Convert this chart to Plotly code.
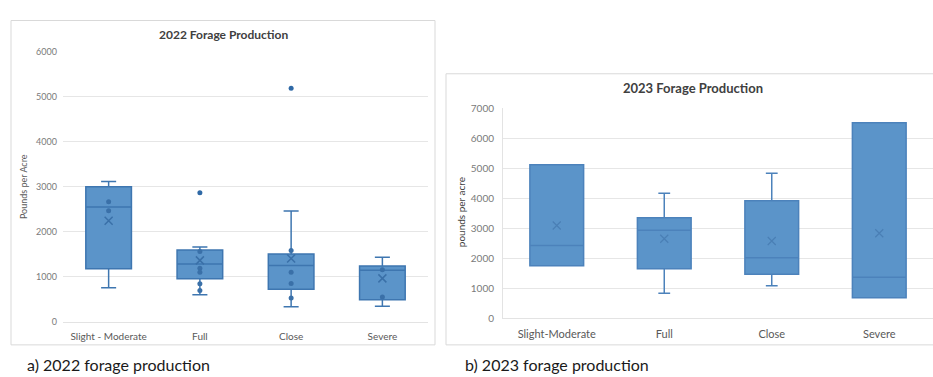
import plotly.graph_objects as go

W, H = 933, 377

# ---------------- 2022 data ----------------
cats22 = ["Slight - Moderate", "Full", "Close", "Severe"]
q1_22 = [1177, 950, 718, 488]
med_22 = [2548, 1280, 1249, 1140]
q3_22 = [2993, 1590, 1500, 1238]
lo_22 = [754, 596, 330, 340]
hi_22 = [3115, 1655, 2455, 1432]
mean_22 = [2240, 1360, 1404, 960]
pts_cat_22 = ["Slight - Moderate", "Slight - Moderate",
              "Full", "Full", "Full", "Full", "Full",
              "Close", "Close", "Close", "Close",
              "Severe", "Severe"]
pts_val_22 = [2663, 2462,
              1558, 1183, 1097, 840, 690,
              1577, 1097, 846, 523,
              1150, 545]
out_cat_22 = ["Full", "Close"]
out_val_22 = [2864, 5183]
yticks22 = [0, 1000, 2000, 3000, 4000, 5000, 6000]

# ---------------- 2023 data ----------------
cats23 = ["Slight-Moderate", "Full", "Close", "Severe"]
q1_23 = [1753, 1656, 1473, 688]
med_23 = [2430, 2935, 2022, 1376]
q3_23 = [5118, 3355, 3925, 6516]
lo_23 = [1753, 839, 1086, 688]
hi_23 = [5118, 4172, 4839, 6516]
mean_23 = [3097, 2656, 2581, 2839]
yticks23 = [0, 1000, 2000, 3000, 4000, 5000, 6000, 7000]

FILL = "#5b94c9"
EDGE = "#3e76b0"
FONT = "Lato"
GRAY = "#595959"


def px(x):
    return x / W


def py(y):
    return 1 - y / H


fig = go.Figure()

fig.add_trace(go.Box(
    x=cats22, q1=q1_22, median=med_22, q3=q3_22,
    lowerfence=lo_22, upperfence=hi_22,
    fillcolor=FILL, line=dict(color=EDGE, width=1.5),
    whiskerwidth=0.33, boxpoints=False, showlegend=False,
    xaxis="x", yaxis="y"))
fig.add_trace(go.Scatter(
    x=pts_cat_22, y=pts_val_22, mode="markers",
    marker=dict(symbol="circle", size=5, color="#3a70a8"),
    showlegend=False, xaxis="x", yaxis="y"))
fig.add_trace(go.Scatter(
    x=out_cat_22, y=out_val_22, mode="markers",
    marker=dict(symbol="circle", size=5, color="#2f69a6"),
    showlegend=False, xaxis="x", yaxis="y"))
fig.add_trace(go.Scatter(
    x=cats22, y=mean_22, mode="markers",
    marker=dict(symbol="x-thin", size=8, line=dict(color="#3a70a8", width=1.5)),
    showlegend=False, xaxis="x", yaxis="y"))

fig.add_trace(go.Box(
    x=cats23, q1=q1_23, median=med_23, q3=q3_23,
    lowerfence=lo_23, upperfence=hi_23,
    fillcolor=FILL, line=dict(color="#4c82bb", width=1.5),
    whiskerwidth=0.22, boxpoints=False, showlegend=False,
    xaxis="x2", yaxis="y2"))
fig.add_trace(go.Scatter(
    x=cats23, y=mean_23, mode="markers",
    marker=dict(symbol="x-thin", size=8, line=dict(color="#4a7fb5", width=1.2)),
    showlegend=False, xaxis="x2", yaxis="y2"))

axis_common = dict(showgrid=False, ticks="", fixedrange=True)

fig.update_layout(
    width=W, height=H,
    margin=dict(l=0, r=0, t=0, b=0),
    paper_bgcolor="white", plot_bgcolor="white",
    boxgap=0.5, boxgroupgap=0,
    font=dict(family=FONT, color=GRAY),
    xaxis=dict(domain=[px(63), px(428)], anchor="y",
               categoryorder="array", categoryarray=cats22,
               tickfont=dict(size=10, color=GRAY, family=FONT),
               showline=True, linecolor="#e3e3e3", linewidth=1,
               ticklabelstandoff=5, **axis_common),
    yaxis=dict(domain=[py(326), py(47)], anchor="x", range=[0, 6000],
               tickvals=yticks22, showgrid=True, gridcolor="#e6e6e6",
               gridwidth=1, zeroline=False, ticks="",
               tickfont=dict(size=9, color="#7a7a7a", family=FONT),
               ticklabelstandoff=5, fixedrange=True),
    xaxis2=dict(domain=[px(503), 1.0], anchor="y2",
                categoryorder="array", categoryarray=cats23,
                tickfont=dict(size=11, color=GRAY, family=FONT),
                showline=True, linecolor="#e3e3e3", linewidth=1,
                ticklabelstandoff=5, **axis_common),
    yaxis2=dict(domain=[py(322.7), py(105.7)], anchor="x2", range=[0, 7000],
                tickvals=yticks23, showgrid=True, gridcolor="#e6e6e6",
                gridwidth=1, zeroline=False, ticks="",
                showline=True, linecolor="#e3e3e3",
                tickfont=dict(size=10, color="#7a7a7a", family=FONT),
                ticklabelstandoff=6, fixedrange=True),
)

# chart frames
fig.add_shape(type="rect", xref="paper", yref="paper",
              x0=px(11), x1=px(435), y0=py(350), y1=py(15),
              line=dict(color="#d9d9d9", width=1), layer="below")
fig.add_shape(type="rect", xref="paper", yref="paper",
              x0=px(446), x1=px(945), y0=py(350), y1=py(70),
              line=dict(color="#d9d9d9", width=1), layer="below")

ann = []
ann.append(dict(text="<b>2022 Forage Production</b>", x=px(223), y=py(29),
                font=dict(size=12, color="#404040", family=FONT)))
ann.append(dict(text="<b>2023 Forage Production</b>", x=px(693), y=py(85),
                font=dict(size=13, color="#404040", family=FONT)))
ann.append(dict(text="Pounds per Acre", x=px(23), y=py(187), textangle=-90,
                font=dict(size=9, color=GRAY, family=FONT)))
ann.append(dict(text="pounds per acre", x=px(461), y=py(213), textangle=-90,
                font=dict(size=10, color="#404040", family=FONT)))
for a in ann:
    a.update(xref="paper", yref="paper", showarrow=False,
             xanchor="center", yanchor="middle")
    fig.add_annotation(**a)

fig.add_annotation(text="a) 2022 forage production", x=px(25), y=py(370),
                   xref="paper", yref="paper", showarrow=False,
                   xanchor="left", yanchor="middle",
                   font=dict(size=16, color="#1a1a1a", family=FONT))
fig.add_annotation(text="b) 2023 forage production", x=px(463), y=py(370),
                   xref="paper", yref="paper", showarrow=False,
                   xanchor="left", yanchor="middle",
                   font=dict(size=16, color="#1a1a1a", family=FONT))

fig.write_html("out.html")
